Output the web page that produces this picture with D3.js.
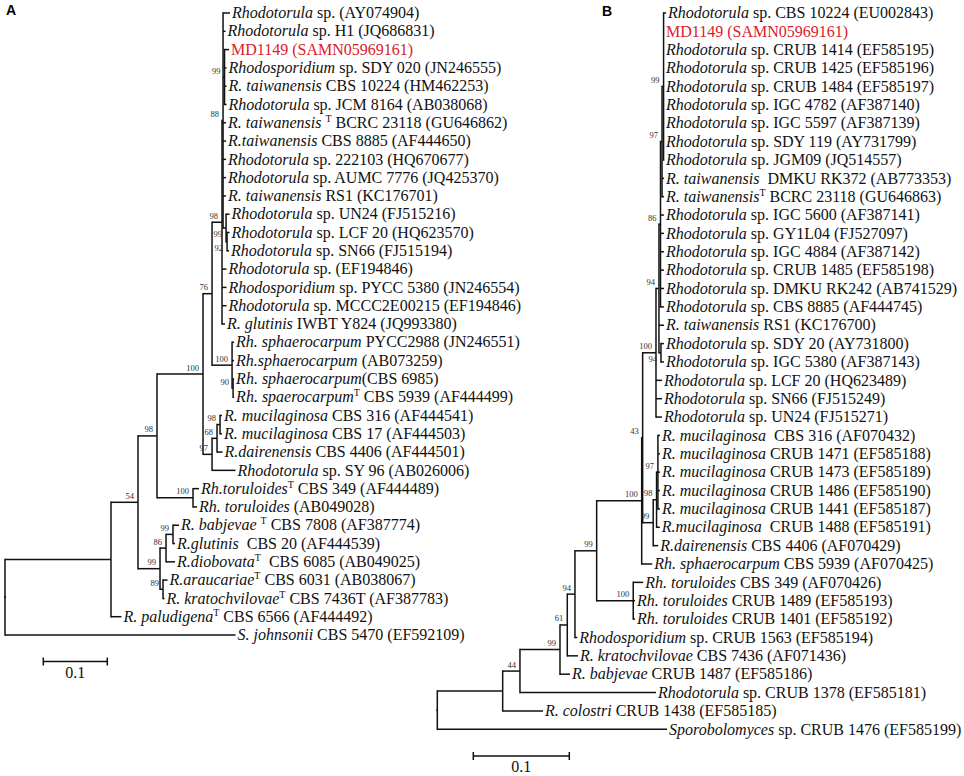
<!DOCTYPE html>
<html>
<head>
<meta charset="utf-8">
<script src="https://cdn.jsdelivr.net/npm/d3@7"></script>
<style>
  html, body { margin: 0; padding: 0; background: #fff; }
  svg text { font-family: "Liberation Serif", "Times New Roman", serif; }
</style>
</head>
<body>
<svg id="chart" width="964" height="776"></svg>
<script>
// Two neighbour-joining trees (A: ITS, B: D1/D2), Newick with bootstrap on internal nodes
const treeA = "((((((((((a1:0.0109,a2:0.0039,(a3:0.0070,a4:0.0031,a5:0.0031,a6:0.0031)99:0.0023,a7:0.0047,a8:0.0047,a9:0.0047,a10:0.0047,a11:0.0047,(a12:0.0055,(a13:0.0039,a14:0.0031)92:0.0016)99:0.0047)88:0.0016,a15:0.0070,a16:0.0070,a17:0.0070,a18:0.0047)98:0.0156,(a19:0.0031,a20:0.0031,(a21:0.0016,a22:0.0016)90:0.0016)100:0.0313)76:0.0141,(((a23:0.0031,a24:0.0031)98:0.0047,a25:0.0086)68:0.0078,a26:0.0367)97:0.0141)100:0.0719,(a27:0.0094,a28:0.0063)100:0.0563)98:0.0297,(((a29:0.0094,a30:0.0031)99:0.0109,a31:0.0141)86:0.0094,(a32:0.0070,a33:0.0023)89:0.0047)99:0.0344)54:0.0422,a34:0.0164):0.1656,a35:0.3602);";

const treeB = "((((((((((((((((b1:0.0026,b2:0.0005,b3:0.0005,b4:0.0005,b5:0.0005,b6:0.0005,b7:0.0005,b8:0.0005,b9:0.0005)99:0.0016,b10:0.0021,b11:0.0021)97:0.0016,b12:0.0036,b13:0.0036,b14:0.0036,b15:0.0036,b16:0.0036,b17:0.0036)86:0.0016,b18:0.0052,(b19:0.0031,b20:0.0031)94:0.0021)94:0.0031,b21:0.0063,b22:0.0063,b23:0.0063)100:0.0139,(((b24:0.0021,b25:0.0021,b26:0.0021,b27:0.0021,b28:0.0021)97:0.0014,b29:0.0034)98:0.0035,b30:0.0052)99:0.0110)43:0.0010,b31:0.0110)100:0.0469,(b32:0.0104,b33:0.0018,b34:0.0018)100:0.0381)99:0.0226,b35:0.0024)94:0.0080,b36:0.0111)61:0.0076,b37:0.0104)99:0.0417,b38:0.1417)44:0.0180,b39:0.0420):0.0681,b40:0.2393);";

// leaf labels: italic name, strain / accession, type strains (1-based)
const namesA = ["Rhodotorula", "Rhodotorula", "", "Rhodosporidium", "R. taiwanensis", "Rhodotorula",
  "R. taiwanensis ", "R.taiwanensis", "Rhodotorula", "Rhodotorula", "R. taiwanensis", "Rhodotorula",
  "Rhodotorula", "Rhodotorula", "Rhodotorula", "Rhodosporidium", "Rhodotorula", "R. glutinis",
  "Rh. sphaerocarpum", "Rh.sphaerocarpum", "Rh. sphaerocarpum", "Rh. spaerocarpum", "R. mucilaginosa",
  "R. mucilaginosa", "R.dairenensis", "Rhodotorula", "Rh.toruloides", "Rh. toruloides", "R. babjevae ",
  "R.glutinis", "R.diobovata", "R.araucariae", "R. kratochvilovae", "R. paludigena", "S. johnsonii"];
const strainsA = [" sp. (AY074904)", " sp. H1 (JQ686831)", "MD1149 (SAMN05969161)", " sp. SDY 020 (JN246555)",
  " CBS 10224 (HM462253)", " sp. JCM 8164 (AB038068)", " BCRC 23118 (GU646862)", " CBS 8885 (AF444650)",
  " sp. 222103 (HQ670677)", " sp. AUMC 7776 (JQ425370)", " RS1 (KC176701)", " sp. UN24 (FJ515216)",
  " sp. LCF 20 (HQ623570)", " sp. SN66 (FJ515194)", " sp. (EF194846)", " sp. PYCC 5380 (JN246554)",
  " sp. MCCC2E00215 (EF194846)", " IWBT Y824 (JQ993380)", " PYCC2988 (JN246551)", " (AB073259)",
  "(CBS 6985)", " CBS 5939 (AF444499)", " CBS 316 (AF444541)", " CBS 17 (AF444503)", " CBS 4406 (AF444501)",
  " sp. SY 96 (AB026006)", " CBS 349 (AF444489)", " (AB049028)", " CBS 7808 (AF387774)", "  CBS 20 (AF444539)",
  "  CBS 6085 (AB049025)", " CBS 6031 (AB038067)", " CBS 7436T (AF387783)", " CBS 6566 (AF444492)",
  " CBS 5470 (EF592109)"];
const typeStrainsA = [7, 22, 27, 29, 31, 32, 33, 34];

const namesB = ["Rhodotorula", "", "Rhodotorula", "Rhodotorula", "Rhodotorula", "Rhodotorula", "Rhodotorula",
  "Rhodotorula", "Rhodotorula", "R. taiwanensis", "R. taiwanensis", "Rhodotorula", "Rhodotorula", "Rhodotorula",
  "Rhodotorula", "Rhodotorula", "Rhodotorula", "R. taiwanensis", "Rhodotorula", "Rhodotorula", "Rhodotorula",
  "Rhodotorula", "Rhodotorula", "R. mucilaginosa", "R. mucilaginosa", "R. mucilaginosa", "R. mucilaginosa",
  "R. mucilaginosa", "R.mucilaginosa", "R.dairenensis", "Rh. sphaerocarpum", "Rh. toruloides", "Rh. toruloides",
  "Rh. toruloides", "Rhodosporidium", "R. kratochvilovae", "R. babjevae", "Rhodotorula", "R. colostri",
  "Sporobolomyces"];
const strainsB = [" sp. CBS 10224 (EU002843)", "MD1149 (SAMN05969161)", " sp. CRUB 1414 (EF585195)",
  " sp. CRUB 1425 (EF585196)", " sp. CRUB 1484 (EF585197)", " sp. IGC 4782 (AF387140)", " sp. IGC 5597 (AF387139)",
  " sp. SDY 119 (AY731799)", " sp. JGM09 (JQ514557)", "  DMKU RK372 (AB773353)", " BCRC 23118 (GU646863)",
  " sp. IGC 5600 (AF387141)", " sp. GY1L04 (FJ527097)", " sp. IGC 4884 (AF387142)", " sp. CRUB 1485 (EF585198)",
  " sp. DMKU RK242 (AB741529)", " sp. CBS 8885 (AF444745)", " RS1 (KC176700)", " sp. SDY 20 (AY731800)",
  " sp. IGC 5380 (AF387143)", " sp. LCF 20 (HQ623489)", " sp. SN66 (FJ515249)", " sp. UN24 (FJ515271)",
  "  CBS 316 (AF070432)", " CRUB 1471 (EF585188)", " CRUB 1473 (EF585189)", " CRUB 1486 (EF585190)",
  " CRUB 1441 (EF585187)", "  CRUB 1488 (EF585191)", " CBS 4406 (AF070429)", " CBS 5939 (AF070425)",
  " CBS 349 (AF070426)", " CRUB 1489 (EF585193)", " CRUB 1401 (EF585192)", " sp. CRUB 1563 (EF585194)",
  " CBS 7436 (AF071436)", " CRUB 1487 (EF585186)", " sp. CRUB 1378 (EF585181)", " CRUB 1438 (EF585185)",
  " sp. CRUB 1476 (EF585199)"];
const typeStrainsB = [11];

const studyIsolate = "MD1149 (SAMN05969161)";
const scaleBarValue = 0.1;

const svg = d3.select("#chart");

// ---------- Newick parsing ----------
function parseNewick(s) {
  let i = 0;
  function node() {
    const n = { children: [], name: "", length: 0 };
    if (s[i] === "(") {
      i++;
      do { n.children.push(node()); } while (s[i++] === ",");
    }
    while (i < s.length && !",():;".includes(s[i])) n.name += s[i++];
    if (s[i] === ":") {
      i++;
      let num = "";
      while (i < s.length && !",();".includes(s[i])) num += s[i++];
      n.length = +num;
    }
    return n;
  }
  return node();
}

// bootstrap labels sit up-left of the node; drop below when crowded
const bootSize = 8.5;
function placeBootstraps(nodes) {
  const boxes = [];
  const hit = b => boxes.some(o => b.x0 < o.x1 && b.x1 > o.x0 && b.y0 < o.y1 && b.y1 > o.y0);
  nodes.forEach(d => {
    const w = d.data.name.length * bootSize * 0.5;
    const h = bootSize * 0.72;
    const xr = d.x - 4;
    let by = d.y - 3.5;
    let b = { x0: xr - w, x1: xr, y0: by - h, y1: by };
    if (hit(b)) {
      by = d.y + 9.5;
      b = { x0: xr - w, x1: xr, y0: by - h, y1: by };
    }
    boxes.push(b);
    d.bx = xr;
    d.by = by;
  });
}

// ---------- draw one panel ----------
function drawTree(cfg) {
  const root = d3.hierarchy(parseNewick(cfg.newick), d => d.children.length ? d.children : null);
  root.eachBefore(d => { d.dist = d.parent ? d.parent.dist + d.data.length : 0; });

  const x = d3.scaleLinear().domain([0, scaleBarValue]).range([cfg.x0, cfg.x0 + cfg.pxPerBar]);
  const leaves = root.leaves();
  const y = d3.scaleLinear().domain([0, leaves.length - 1]).range([cfg.yTop, cfg.yBottom]);

  leaves.forEach((d, i) => { d.y = y(i); });
  root.eachAfter(d => {
    if (d.children) d.y = (d.children[0].y + d.children[d.children.length - 1].y) / 2;
  });
  root.each(d => { d.x = x(d.dist); });

  const g = svg.append("g");

  // horizontal branches
  g.append("g")
    .selectAll("line")
    .data(root.descendants().filter(d => d.parent))
    .join("line")
    .attr("x1", d => d.parent.x).attr("x2", d => d.x)
    .attr("y1", d => d.y).attr("y2", d => d.y)
    .attr("stroke", "#111").attr("stroke-width", 1.5);

  // vertical connectors
  g.append("g")
    .selectAll("line")
    .data(root.descendants().filter(d => d.children))
    .join("line")
    .attr("x1", d => d.x).attr("x2", d => d.x)
    .attr("y1", d => d.children[0].y - 0.75)
    .attr("y2", d => d.children[d.children.length - 1].y + 0.75)
    .attr("stroke", "#111").attr("stroke-width", 1.5);

  // bootstrap values
  const boots = [];
  root.eachBefore(d => { if (d.children && d.data.name) boots.push(d); });
  placeBootstraps(boots);
  g.append("g")
    .selectAll("text")
    .data(boots)
    .join("text")
    .attr("x", d => d.bx)
    .attr("y", d => d.by)
    .attr("text-anchor", "end")
    .attr("font-size", bootSize)
    .attr("fill", "#333")
    .text(d => d.data.name);

  // leaf labels
  const lab = g.append("g")
    .selectAll("text")
    .data(leaves)
    .join("text")
    .attr("x", d => d.x + 2)
    .attr("y", d => d.y + 5.2)
    .attr("font-size", 16)
    .style("white-space", "pre")
    .attr("fill", "#111");

  lab.each(function (d) {
    const k = +d.data.name.slice(1) - 1;
    const t = d3.select(this);
    const name = cfg.names[k];
    const strain = cfg.strains[k];
    const isType = cfg.typeStrains.includes(k + 1);
    if (name) t.append("tspan").attr("font-style", "italic").text(name);
    if (isType) t.append("tspan").attr("font-size", 10).attr("dy", -6).text("T");
    t.append("tspan")
      .attr("dy", isType ? 6 : null)
      .attr("fill", strain === studyIsolate ? "#d9202c" : null)
      .text(strain);
  });

  // scale bar
  const bar = g.append("g");
  const bx0 = cfg.barX, bx1 = cfg.barX + (x(scaleBarValue) - x(0));
  bar.append("line").attr("x1", bx0).attr("x2", bx1).attr("y1", cfg.barY).attr("y2", cfg.barY)
    .attr("stroke", "#111").attr("stroke-width", 1.5);
  [bx0, bx1].forEach(bx => {
    bar.append("line").attr("x1", bx).attr("x2", bx).attr("y1", cfg.barY - 4).attr("y2", cfg.barY + 4)
      .attr("stroke", "#111").attr("stroke-width", 1.5);
  });
  bar.append("text")
    .attr("x", (bx0 + bx1) / 2).attr("y", cfg.barY + 16)
    .attr("text-anchor", "middle").attr("font-size", 16).attr("fill", "#111")
    .text(scaleBarValue);

  // panel letter
  svg.append("text")
    .attr("x", cfg.letterX).attr("y", cfg.letterY)
    .style("font-family", "'Liberation Sans', Arial, sans-serif")
    .attr("font-weight", "bold").attr("font-size", 14)
    .text(cfg.letter);
}

drawTree({
  newick: treeA, names: namesA, strains: strainsA, typeStrains: typeStrainsA,
  x0: 5, pxPerBar: 64, yTop: 13, yBottom: 635,
  barX: 43.3, barY: 661.5, letter: "A", letterX: 6, letterY: 15
});

drawTree({
  newick: treeB, names: namesB, strains: strainsB, typeStrains: typeStrainsB,
  x0: 437.3, pxPerBar: 96, yTop: 13, yBottom: 729.3,
  barX: 473.3, barY: 756, letter: "B", letterX: 602, letterY: 16
});
</script>
</body>
</html>
